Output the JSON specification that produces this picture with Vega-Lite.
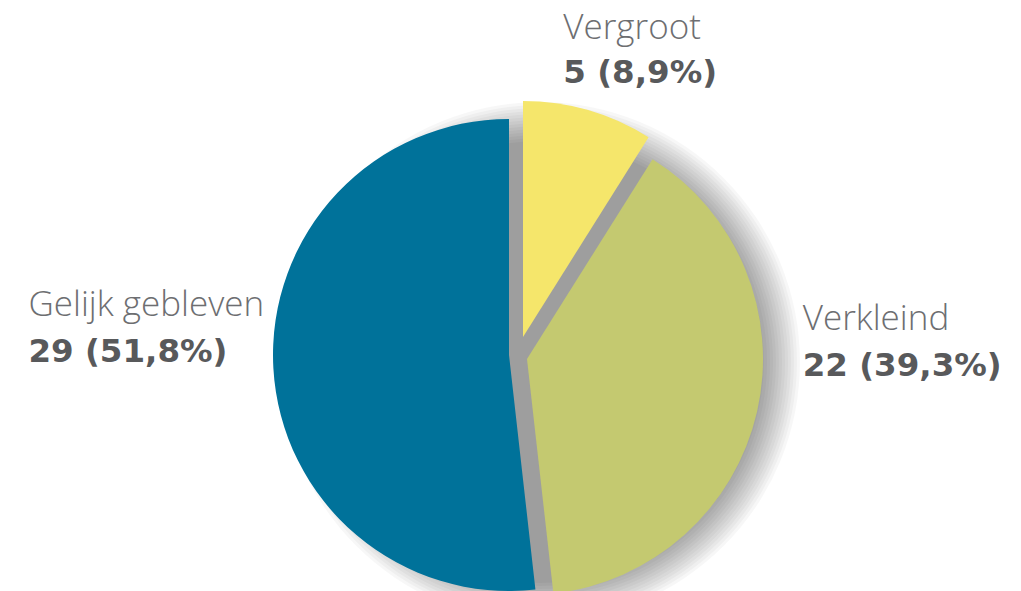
{
  "$schema": "https://vega.github.io/schema/vega-lite/v6.json",
  "width": 1010,
  "height": 470,
  "autosize": {"type": "none"},
  "padding": {"left": 11, "top": 117, "right": 0, "bottom": 4},
  "background": "white",
  "config": {"view": {"stroke": null}},
  "data": {
    "values": [
      {"cat": "Vergroot", "count": 5, "label": "5 (8,9%)"},
      {"cat": "Verkleind", "count": 22, "label": "22 (39,3%)"},
      {"cat": "Gelijk gebleven", "count": 29, "label": "29 (51,8%)"}
    ]
  },
  "layer": [
    {"transform": [{"aggregate": [{"op": "sum", "field": "count", "as": "total"}]}],
     "mark": {"type": "arc", "theta": 6.2832, "outerRadius": 260, "xOffset": 24, "yOffset": 10, "fill": "#000000", "fillOpacity": 0.032}},
    {"transform": [{"aggregate": [{"op": "sum", "field": "count", "as": "total"}]}],
     "mark": {"type": "arc", "theta": 6.2832, "outerRadius": 257, "xOffset": 24, "yOffset": 10, "fill": "#000000", "fillOpacity": 0.032}},
    {"transform": [{"aggregate": [{"op": "sum", "field": "count", "as": "total"}]}],
     "mark": {"type": "arc", "theta": 6.2832, "outerRadius": 254, "xOffset": 24, "yOffset": 10, "fill": "#000000", "fillOpacity": 0.032}},
    {"transform": [{"aggregate": [{"op": "sum", "field": "count", "as": "total"}]}],
     "mark": {"type": "arc", "theta": 6.2832, "outerRadius": 251, "xOffset": 24, "yOffset": 10, "fill": "#000000", "fillOpacity": 0.032}},
    {"transform": [{"aggregate": [{"op": "sum", "field": "count", "as": "total"}]}],
     "mark": {"type": "arc", "theta": 6.2832, "outerRadius": 248, "xOffset": 24, "yOffset": 10, "fill": "#000000", "fillOpacity": 0.032}},
    {"transform": [{"aggregate": [{"op": "sum", "field": "count", "as": "total"}]}],
     "mark": {"type": "arc", "theta": 6.2832, "outerRadius": 245, "xOffset": 24, "yOffset": 10, "fill": "#000000", "fillOpacity": 0.032}},
    {"transform": [{"aggregate": [{"op": "sum", "field": "count", "as": "total"}]}],
     "mark": {"type": "arc", "theta": 6.2832, "outerRadius": 242, "xOffset": 24, "yOffset": 10, "fill": "#000000", "fillOpacity": 0.032}},
    {"transform": [{"aggregate": [{"op": "sum", "field": "count", "as": "total"}]}],
     "mark": {"type": "arc", "theta": 6.2832, "outerRadius": 239, "xOffset": 24, "yOffset": 10, "fill": "#000000", "fillOpacity": 0.032}},
    {"transform": [{"aggregate": [{"op": "sum", "field": "count", "as": "total"}]}],
     "mark": {"type": "arc", "theta": 6.2832, "outerRadius": 236, "xOffset": 24, "yOffset": 10, "fill": "#000000", "fillOpacity": 0.032}},
    {"transform": [{"aggregate": [{"op": "sum", "field": "count", "as": "total"}]}],
     "mark": {"type": "arc", "theta": 6.2832, "outerRadius": 233, "xOffset": 24, "yOffset": 10, "fill": "#000000", "fillOpacity": 0.032}},
    {"transform": [{"aggregate": [{"op": "sum", "field": "count", "as": "total"}]}],
     "mark": {"type": "arc", "theta": 6.2832, "outerRadius": 230, "xOffset": 24, "yOffset": 10, "fill": "#000000", "fillOpacity": 0.032}},
    {"transform": [{"aggregate": [{"op": "sum", "field": "count", "as": "total"}]}],
     "mark": {"type": "arc", "theta": 6.2832, "outerRadius": 227, "xOffset": 24, "yOffset": 10, "fill": "#000000", "fillOpacity": 0.032}},
    {"transform": [{"aggregate": [{"op": "sum", "field": "count", "as": "total"}]}],
     "mark": {"type": "arc", "theta": 6.2832, "outerRadius": 224, "xOffset": 24, "yOffset": 10, "fill": "#000000", "fillOpacity": 0.032}},
    {"transform": [{"aggregate": [{"op": "sum", "field": "count", "as": "total"}]}],
     "mark": {"type": "arc", "theta": 6.2832, "outerRadius": 221, "xOffset": 24, "yOffset": 10, "fill": "#000000", "fillOpacity": 0.032}},
    {"mark": {"type": "arc", "outerRadius": 236, "xOffset": -7, "yOffset": 3, "fill": "#00729a"},
     "encoding": {
       "theta": {"field": "count", "type": "quantitative", "stack": true},
       "order": {"field": "count", "type": "quantitative", "sort": "ascending"},
       "opacity": {"condition": {"test": "datum.cat === 'Gelijk gebleven'", "value": 1}, "value": 0}
     }},
    {"mark": {"type": "arc", "outerRadius": 236, "xOffset": 7, "yOffset": -15, "fill": "#f5e66b"},
     "encoding": {
       "theta": {"field": "count", "type": "quantitative", "stack": true},
       "order": {"field": "count", "type": "quantitative", "sort": "ascending"},
       "opacity": {"condition": {"test": "datum.cat === 'Vergroot'", "value": 1}, "value": 0}
     }},
    {"mark": {"type": "arc", "outerRadius": 236, "xOffset": 11, "yOffset": 7, "fill": "#c4c970"},
     "encoding": {
       "theta": {"field": "count", "type": "quantitative", "stack": true},
       "order": {"field": "count", "type": "quantitative", "sort": "ascending"},
       "opacity": {"condition": {"test": "datum.cat === 'Verkleind'", "value": 1}, "value": 0}
     }},
    {"mark": {"type": "text", "radius": 290, "align": "left", "baseline": "alphabetic", "dx": -33, "dy": -34, "font": "Open Sans", "fontSize": 35, "fontWeight": 300, "fill": "#6d6e71"},
     "encoding": {
       "theta": {"field": "count", "type": "quantitative", "stack": true},
       "order": {"field": "count", "type": "quantitative", "sort": "ascending"},
       "text": {"condition": {"test": "datum.cat === 'Vergroot'", "field": "cat"}, "value": ""}
     }},
    {"mark": {"type": "text", "radius": 290, "align": "left", "baseline": "alphabetic", "dx": -33, "dy": 10, "font": "DejaVu Sans", "fontSize": 32.5, "fontWeight": 700, "fill": "#58595b"},
     "encoding": {
       "theta": {"field": "count", "type": "quantitative", "stack": true},
       "order": {"field": "count", "type": "quantitative", "sort": "ascending"},
       "text": {"condition": {"test": "datum.cat === 'Vergroot'", "field": "label"}, "value": ""}
     }},
    {"mark": {"type": "text", "radius": 290, "align": "left", "baseline": "alphabetic", "dx": 4, "dy": -87, "font": "Open Sans", "fontSize": 35, "fontWeight": 300, "fill": "#6d6e71"},
     "encoding": {
       "theta": {"field": "count", "type": "quantitative", "stack": true},
       "order": {"field": "count", "type": "quantitative", "sort": "ascending"},
       "text": {"condition": {"test": "datum.cat === 'Verkleind'", "field": "cat"}, "value": ""}
     }},
    {"mark": {"type": "text", "radius": 290, "align": "left", "baseline": "alphabetic", "dx": 4, "dy": -41, "font": "DejaVu Sans", "fontSize": 32.5, "fontWeight": 700, "fill": "#58595b"},
     "encoding": {
       "theta": {"field": "count", "type": "quantitative", "stack": true},
       "order": {"field": "count", "type": "quantitative", "sort": "ascending"},
       "text": {"condition": {"test": "datum.cat === 'Verkleind'", "field": "label"}, "value": ""}
     }},
    {"mark": {"type": "text", "radius": 290, "align": "left", "baseline": "alphabetic", "dx": -198, "dy": -52, "font": "Open Sans", "fontSize": 35, "fontWeight": 300, "fill": "#6d6e71"},
     "encoding": {
       "theta": {"field": "count", "type": "quantitative", "stack": true},
       "order": {"field": "count", "type": "quantitative", "sort": "ascending"},
       "text": {"condition": {"test": "datum.cat === 'Gelijk gebleven'", "field": "cat"}, "value": ""}
     }},
    {"mark": {"type": "text", "radius": 290, "align": "left", "baseline": "alphabetic", "dx": -198, "dy": -6, "font": "DejaVu Sans", "fontSize": 32.5, "fontWeight": 700, "fill": "#58595b"},
     "encoding": {
       "theta": {"field": "count", "type": "quantitative", "stack": true},
       "order": {"field": "count", "type": "quantitative", "sort": "ascending"},
       "text": {"condition": {"test": "datum.cat === 'Gelijk gebleven'", "field": "label"}, "value": ""}
     }}
  ]
}
